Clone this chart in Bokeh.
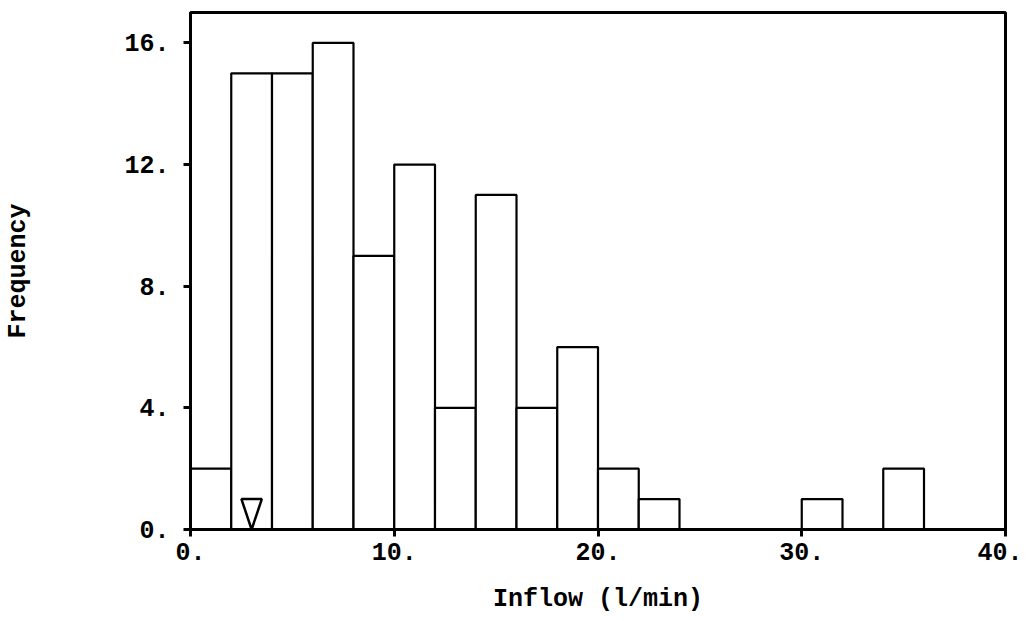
from bokeh.plotting import figure
from bokeh.models import FixedTicker, PrintfTickFormatter, Range1d
from bokeh.embed import file_html
from bokeh.resources import INLINE

# Data: histogram of inflow (bin width 2 l/min)
bin_edges = [0, 2, 4, 6, 8, 10, 12, 14, 16, 18, 20, 22, 24, 26, 28, 30, 32, 34, 36, 38, 40]
counts = [2, 15, 15, 16, 9, 12, 4, 11, 4, 6, 2, 1, 0, 0, 0, 1, 0, 2, 0, 0]
x_ticks = [0, 10, 20, 30, 40]
y_ticks = [0, 4, 8, 12, 16]
marker_value = 3.0

FONT = "Liberation Mono"

p = figure(width=1022, height=618, output_backend="svg", toolbar_location=None,
           x_range=Range1d(0, 40), y_range=Range1d(0, 17),
           min_border_left=190, min_border_right=17, min_border_top=12, min_border_bottom=89)

lefts = [bin_edges[i] for i in range(len(counts)) if counts[i] > 0]
rights = [bin_edges[i + 1] for i in range(len(counts)) if counts[i] > 0]
tops = [counts[i] for i in range(len(counts)) if counts[i] > 0]
p.quad(left=lefts, right=rights, top=tops, bottom=0,
       fill_color="white", line_color="black", line_width=2.2)

# inverted triangle marker
tri_half = 0.5
tri_h = 1.0
p.patch(x=[marker_value - tri_half, marker_value + tri_half, marker_value],
        y=[tri_h, tri_h, 0], fill_color="white", line_color="black", line_width=2.5)

p.grid.visible = False
p.outline_line_color = "black"
p.outline_line_width = 3
p.background_fill_color = "white"
p.border_fill_color = "white"

for ax in (p.xaxis[0], p.yaxis[0]):
    ax.axis_line_width = 3
    ax.axis_line_color = "black"
    ax.major_tick_out = 7
    ax.major_tick_in = 0
    ax.major_tick_line_width = 3
    ax.minor_tick_line_color = None
    ax.major_label_text_font = FONT
    ax.major_label_text_font_style = "bold"
    ax.major_label_text_font_size = "25px"
    ax.major_label_text_color = "black"
    ax.axis_label_text_font = FONT
    ax.axis_label_text_font_style = "bold"
    ax.axis_label_text_font_size = "25px"
    ax.axis_label_text_color = "black"
    ax.formatter = PrintfTickFormatter(format="%d.")

p.xaxis[0].ticker = FixedTicker(ticks=x_ticks)
p.yaxis[0].ticker = FixedTicker(ticks=y_ticks)
p.xaxis[0].axis_label = "Inflow (l/min)"
p.yaxis[0].axis_label = "Frequency"
p.xaxis[0].major_label_standoff = 6
p.yaxis[0].major_label_standoff = 14
p.xaxis[0].axis_label_standoff = 22
p.yaxis[0].axis_label_standoff = 88

open("out.html", "w").write(file_html(p, INLINE))
